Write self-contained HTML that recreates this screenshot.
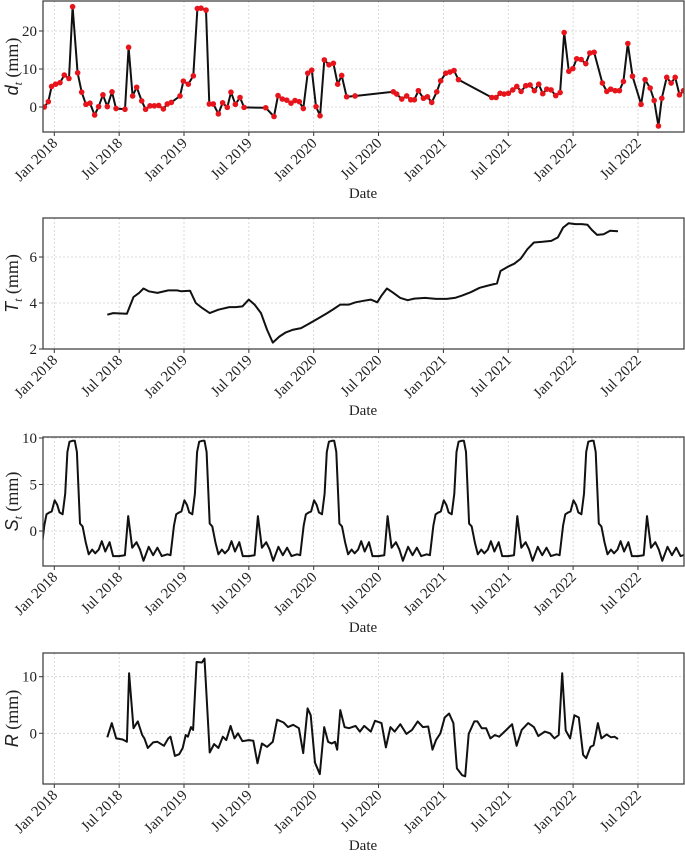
<!DOCTYPE html>
<html><head><meta charset="utf-8">
<style>
html,body{margin:0;padding:0;background:#fff;}
svg{display:block;font-family:"Liberation Serif",serif;}
</style></head>
<body>
<svg id="c" width="685" height="857" viewBox="0 0 685 857" xmlns="http://www.w3.org/2000/svg"></svg>
<script>
// ---- data (times in decimal years since Jan 2018) ----
const tickLabels = ["Jan 2018","Jul 2018","Jan 2019","Jul 2019","Jan 2020","Jul 2020","Jan 2021","Jul 2021","Jan 2022","Jul 2022"];
const tickTimes = [0,0.5,1,1.5,2,2.5,3,3.5,4,4.5];

const obsT = [-0.077,-0.046,-0.021,0.010,0.044,0.077,0.113,0.141,0.180,0.211,0.244,0.275,0.311,0.342,0.375,0.409,0.445,0.476,0.545,0.573,0.604,0.635,0.674,0.704,0.738,0.771,0.805,0.841,0.871,0.902,0.969,0.995,1.033,1.072,1.103,1.131,1.170,1.195,1.226,1.265,1.298,1.334,1.362,1.396,1.432,1.463,1.630,1.694,1.725,1.758,1.792,1.825,1.856,1.889,1.920,1.954,1.985,2.018,2.049,2.082,2.118,2.152,2.185,2.216,2.254,2.319,2.614,2.640,2.679,2.717,2.748,2.776,2.807,2.846,2.877,2.910,2.949,2.979,3.018,3.051,3.082,3.116,3.373,3.406,3.437,3.468,3.501,3.535,3.566,3.599,3.635,3.668,3.702,3.735,3.766,3.797,3.830,3.866,3.900,3.931,3.967,3.998,4.028,4.062,4.098,4.129,4.162,4.226,4.260,4.290,4.324,4.357,4.388,4.422,4.458,4.524,4.555,4.594,4.625,4.658,4.684,4.722,4.756,4.787,4.820,4.851];
const obsV = [0.0,1.4,5.4,6.0,6.4,8.4,7.5,26.4,9.0,3.9,0.7,1.0,-2.1,0.1,3.2,0.1,4.0,-0.4,-0.6,15.7,2.9,5.2,1.6,-0.6,0.3,0.3,0.4,-0.5,0.8,1.2,2.9,6.8,6.0,8.2,25.9,26.0,25.5,0.8,0.8,-1.8,1.1,-0.1,3.9,0.7,2.5,-0.1,-0.2,-2.5,3.0,2.1,1.8,1.0,1.7,1.4,-0.4,8.9,9.7,0.1,-2.3,12.4,11.1,11.5,6.0,8.3,2.7,2.9,4.0,3.4,2.1,2.9,1.9,1.9,4.3,2.3,2.7,1.2,4.0,6.9,8.9,9.2,9.6,7.2,2.5,2.5,3.6,3.4,3.6,4.5,5.4,4.1,5.6,5.8,4.3,6.0,3.5,4.7,4.5,3.0,3.8,19.6,9.4,10.1,12.7,12.5,11.4,14.2,14.4,6.3,4.1,4.7,4.3,4.3,6.7,16.7,8.1,0.7,7.2,5.0,1.7,-5.0,2.3,7.8,6.3,7.8,3.2,4.3];

const trendT = [0.409,0.453,0.560,0.611,0.654,0.688,0.728,0.795,0.879,0.946,0.980,1.047,1.091,1.141,1.198,1.265,1.349,1.399,1.450,1.500,1.544,1.594,1.641,1.685,1.735,1.785,1.836,1.903,1.970,2.037,2.104,2.154,2.205,2.272,2.322,2.389,2.440,2.490,2.523,2.564,2.607,2.668,2.725,2.775,2.859,2.943,3.027,3.094,3.144,3.211,3.279,3.346,3.413,3.440,3.497,3.547,3.597,3.648,3.698,3.765,3.832,3.883,3.923,3.966,4.017,4.067,4.111,4.144,4.185,4.235,4.285,4.346];
const trendV = [3.49,3.56,3.53,4.26,4.44,4.63,4.51,4.44,4.55,4.55,4.51,4.53,4.0,3.78,3.56,3.71,3.82,3.82,3.85,4.15,3.93,3.56,2.83,2.28,2.54,2.72,2.83,2.91,3.12,3.34,3.56,3.74,3.93,3.93,4.03,4.10,4.15,4.03,4.32,4.63,4.47,4.22,4.12,4.19,4.22,4.18,4.18,4.23,4.32,4.47,4.66,4.76,4.85,5.39,5.58,5.71,5.93,6.34,6.63,6.66,6.70,6.85,7.28,7.47,7.43,7.43,7.40,7.18,6.96,6.99,7.14,7.12];

// one seasonal cycle (phase within year), repeated each year
const seasPhase = [-0.077,-0.060,-0.037,-0.020,0.003,0.023,0.040,0.064,0.084,0.101,0.117,0.141,0.158,0.174,0.198,0.218,0.242,0.265,0.292,0.315,0.342,0.366,0.393,0.426,0.453,0.500,0.544,0.570,0.601,0.634,0.661,0.688,0.728,0.762,0.795,0.829,0.872,0.896];
const seasV = [0.6,1.8,2.0,2.1,3.3,2.8,2.0,1.8,4.0,8.5,9.6,9.7,9.7,8.5,0.8,0.5,-1.2,-2.5,-2.0,-2.4,-2.0,-1.1,-2.2,-1.2,-2.7,-2.7,-2.6,1.6,-1.8,-1.2,-2.0,-3.2,-1.7,-2.6,-1.8,-2.7,-2.5,-2.6];
const seasYears = [-1,0,1,2,3,4,5];

const resT = [0.409,0.443,0.477,0.527,0.560,0.577,0.611,0.644,0.678,0.695,0.721,0.762,0.795,0.846,0.879,0.896,0.930,0.963,0.990,1.013,1.030,1.054,1.070,1.097,1.138,1.158,1.198,1.232,1.265,1.299,1.326,1.359,1.389,1.416,1.450,1.500,1.534,1.567,1.601,1.641,1.685,1.718,1.768,1.802,1.842,1.886,1.919,1.953,1.977,2.010,2.047,2.081,2.111,2.138,2.164,2.181,2.205,2.238,2.272,2.322,2.356,2.389,2.440,2.473,2.523,2.557,2.591,2.624,2.668,2.715,2.758,2.802,2.842,2.883,2.916,2.943,2.977,3.010,3.044,3.077,3.104,3.144,3.168,3.195,3.238,3.262,3.295,3.329,3.362,3.396,3.430,3.480,3.530,3.564,3.604,3.654,3.698,3.732,3.782,3.822,3.856,3.889,3.916,3.943,3.977,4.010,4.044,4.077,4.101,4.134,4.158,4.191,4.218,4.258,4.292,4.319,4.346];
const resV = [-0.7,1.8,-0.9,-1.1,-1.5,10.6,0.9,2.1,-0.3,-0.9,-2.6,-1.6,-1.5,-2.2,-0.9,-0.6,-4.0,-3.7,-2.6,-0.3,-0.6,1.1,0.6,12.6,12.5,13.2,-3.4,-1.9,-2.6,-0.6,-1.2,1.3,-0.9,0,-1.4,-1.2,-1.3,-5.3,-1.8,-2.4,-1.5,2.4,1.9,1.1,1.5,0.9,-3.5,4.4,3.2,-5.2,-7.2,1.1,-1.5,-1.8,-1.5,-2.9,4.1,1.1,0.9,1.3,0.3,1.3,0.3,2.2,1.8,-2.5,1.1,0.3,1.6,-0.1,0.6,2.1,1.1,1.2,-2.9,-1.2,0,2.8,3.5,1.8,-6.2,-7.4,-7.6,-0.1,2.1,2.1,0.9,0.9,-0.9,-0.3,-0.6,0.5,1.6,-2.2,0.6,1.8,1.1,-0.5,0.3,0,-0.9,-0.3,10.6,0.5,-0.9,3.2,2.8,-3.8,-4.4,-2.4,-2.1,1.8,-0.9,-0.2,-0.7,-0.6,-1.0];

// ---- layout ----
const NS="http://www.w3.org/2000/svg";
const svg=document.getElementById('c');
const L=43,R=684;
const xs=t=>54.3+t*129.7;
function el(tag,attrs,parent){const e=document.createElementNS(NS,tag);for(const k in attrs)e.setAttribute(k,attrs[k]);(parent||svg).appendChild(e);return e;}

const panels=[
 {key:'observed',top:1,bot:132,v0:0,y0:107,k:3.8,ticks:[0,10,20],lab:['d','t']},
 {key:'trend',top:218,bot:349,v0:4,y0:303,k:23,ticks:[2,4,6],lab:['T','t']},
 {key:'seasonal',top:437,bot:566,v0:0,y0:531,k:9.3,ticks:[0,5,10],lab:['S','t']},
 {key:'residual',top:653,bot:784,v0:0,y0:733.3,k:5.66,ticks:[0,10],lab:['R','']}
];

panels.forEach((p,i)=>{
 const g=el('g',{});
 
 
 const ys=v=>p.y0-(v-p.v0)*p.k;
 p.ys=ys;
 const cid='clip'+i;
 const cp=el('clipPath',{id:cid},g);el('rect',{x:L,y:p.top,width:R-L,height:p.bot-p.top},cp);
 tickTimes.forEach((t,j)=>{
  const x=xs(t);
  const gl=el('line',{x1:x,x2:x,y1:p.top,y2:p.bot,stroke:'#d0d0d0','stroke-width':0.8,'stroke-dasharray':'2,2'},g);
  
  
  el('line',{x1:x,x2:x,y1:p.bot,y2:p.bot+4,stroke:'#333','stroke-width':1},g);
  const tx=el('text',{x:x+4,y:p.bot+12,'font-size':15,'text-anchor':'end',fill:'#222',transform:`rotate(-45 ${x+4} ${p.bot+12})`},g);
  tx.textContent=tickLabels[j];
  
  
 });
 p.ticks.forEach(v=>{
  const y=ys(v);
  el('line',{x1:L,x2:R,y1:y,y2:y,stroke:'#d0d0d0','stroke-width':0.8,'stroke-dasharray':'2,2'},g);
  el('line',{x1:L-4,x2:L,y1:y,y2:y,stroke:'#333','stroke-width':1},g);
  const tx=el('text',{x:L-6,y:y+5,'font-size':15,'text-anchor':'end',fill:'#222'},g);
  tx.textContent=v;
  
  
 });
 const yc=(p.top+p.bot)/2;
 const yl=el('text',{x:0,y:0,'font-size':18,'text-anchor':'middle',fill:'#222',transform:`translate(18 ${yc}) rotate(-90)`},g);
 
 
 const s1=el('tspan',{'font-family':'"Liberation Sans",sans-serif','font-style':'italic'},yl);s1.textContent=p.lab[0];
 if(p.lab[1]){const s2=el('tspan',{'font-style':'italic','font-size':12,dy:4},yl);s2.textContent=p.lab[1];
  const s3=el('tspan',{dy:-4},yl);s3.textContent=' (mm)';}
 else{const s3=el('tspan',{},yl);s3.textContent=' (mm)';}
 const xl=el('text',{x:363,y:p.bot+66,'font-size':15,'text-anchor':'middle',fill:'#222'},g);
 xl.textContent='Date';
 
 
 p.g=g;p.cid=cid;
});

function line(p,T,V,name){
 const d=T.map((t,i)=>(i?'L':'M')+xs(t).toFixed(1)+' '+p.ys(V[i]).toFixed(1)).join(' ');
 const pa=el('path',{d,fill:'none',stroke:'#111','stroke-width':2,'stroke-linejoin':'round','clip-path':`url(#${p.cid})`},p.g);
 
 
}
line(panels[0],obsT,obsV,'observed-line');
obsT.forEach((t,i)=>{
 const c=el('circle',{cx:xs(t),cy:panels[0].ys(obsV[i]),r:2.8,fill:'#e8141b','clip-path':`url(#${panels[0].cid})`},panels[0].g);
 
 
});
line(panels[1],trendT,trendV,'trend-line');
const sT=[],sV=[];
seasYears.forEach(y=>seasPhase.forEach((ph,i)=>{sT.push(y+ph);sV.push(seasV[i]);}));
line(panels[2],sT,sV,'seasonal-line');
line(panels[3],resT,resV,'residual-line');
panels.forEach(p=>{
 const f=el('rect',{x:L,y:p.top,width:R-L,height:p.bot-p.top,fill:'none',stroke:'#444','stroke-width':1.3},p.g);
 
 
});
</script>
</body></html>
